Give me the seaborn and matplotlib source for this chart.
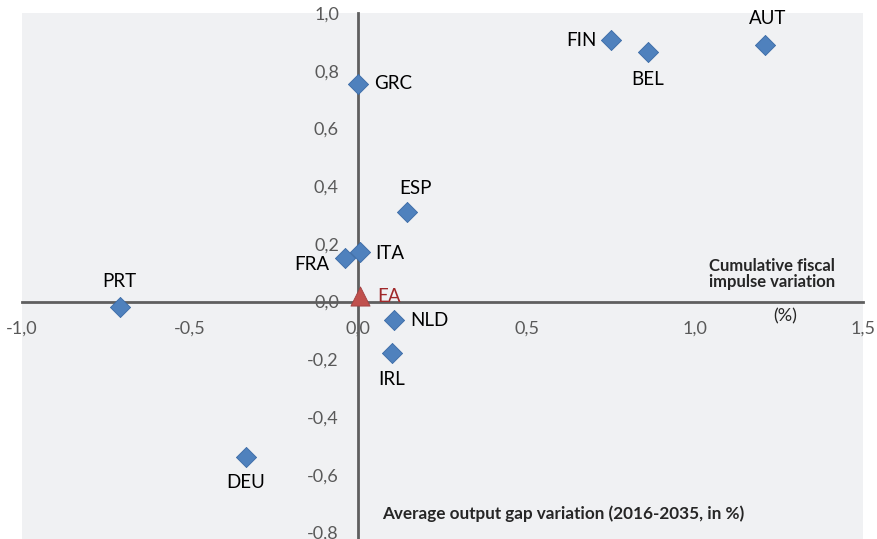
import matplotlib
matplotlib.use("Agg")
import matplotlib.pyplot as plt
import matplotlib.ticker as mticker
import pandas as pd
import seaborn as sns

# Values
countries = ["AUT", "FIN", "BEL", "GRC", "ESP", "ITA", "FRA", "NLD", "IRL", "PRT", "DEU"]
output_gap = [1.21, 0.75, 0.86, 0.0, 0.145, 0.005, -0.04, 0.105, 0.10, -0.71, -0.335]
fiscal_impulse = [0.89, 0.905, 0.865, 0.755, 0.31, 0.17, 0.15, -0.065, -0.18, -0.02, -0.54]
ea_label = "EA"
ea_x = [0.005]
ea_y = [0.02]

x_ticks = [-1.0, -0.5, 0.0, 0.5, 1.0, 1.5]
y_ticks = [-0.8, -0.6, -0.4, -0.2, 0.0, 0.2, 0.4, 0.6, 0.8, 1.0]

# label placement (pixel offsets, alignment)
label_pos = {
    "AUT": (2, 26, "center", "center"),
    "FIN": (-14, 0, "right", "center"),
    "BEL": (0, -28, "center", "center"),
    "GRC": (16, 0, "left", "center"),
    "ESP": (8, 24, "center", "center"),
    "ITA": (15, -1, "left", "center"),
    "FRA": (-16, -6, "right", "center"),
    "NLD": (17, 0, "left", "center"),
    "IRL": (0, -26, "center", "center"),
    "PRT": (0, 26, "center", "center"),
    "DEU": (0, -25, "center", "center"),
}

df = pd.DataFrame({"country": countries, "x": output_gap, "y": fiscal_impulse})
ea = pd.DataFrame({"country": [ea_label], "x": ea_x, "y": ea_y})

sns.set_style("white")
plt.rcParams["font.family"] = ["Lato", "DejaVu Sans"]

fig = plt.figure(figsize=(8.77, 5.39), dpi=100)
ax = fig.add_axes([22 / 877, 0, (863 - 22) / 877, (539 - 13) / 539])
ax.set_facecolor("#f0f1f3")

sns.scatterplot(data=df, x="x", y="y", marker="D", s=105, color="#4f81bd",
                edgecolor="#3a6aa5", linewidth=0.6, ax=ax, zorder=4, clip_on=False)
sns.scatterplot(data=ea, x="x", y="y", marker="^", s=190, color="#c0504d",
                edgecolor="#a04040", linewidth=0.6, ax=ax, zorder=5, clip_on=False)

for _, r in df.iterrows():
    dx, dy, ha, va = label_pos[r["country"]]
    ax.annotate(r["country"], (r["x"], r["y"]), xytext=(dx, dy), textcoords="offset pixels",
                ha=ha, va=va, fontsize=13.5, color="black", zorder=6)
ax.annotate(ea_label, (ea_x[0], ea_y[0]), xytext=(17, -1), textcoords="offset pixels",
            ha="left", va="center", fontsize=13.5, color="#a0282a", zorder=6)

ax.set_xlim(-1.0, 1.5)
ax.set_ylim(-0.823, 1.0)
ax.set_xticks(x_ticks)
ax.set_yticks(y_ticks)
fmt = mticker.FuncFormatter(lambda v, p: f"{v:.1f}".replace(".", ","))
ax.xaxis.set_major_formatter(fmt)
ax.yaxis.set_major_formatter(fmt)

for side in ["top", "right"]:
    ax.spines[side].set_visible(False)
for side in ["left", "bottom"]:
    ax.spines[side].set_position(("data", 0))
    ax.spines[side].set_color("#5f5f5f")
    ax.spines[side].set_linewidth(2)
    ax.spines[side].set_zorder(3)

ax.tick_params(axis="both", direction="out", length=4, width=1, color="#9a9a9a",
               labelsize=13, labelcolor="#595959")
ax.tick_params(axis="x", pad=10)
ax.tick_params(axis="y", pad=10)
for lab in ax.get_xticklabels() + ax.get_yticklabels():
    lab.set_clip_on(False)
ax.set_xlabel("")
ax.set_ylabel("")

ax.text(1.23, 0.095, "Cumulative fiscal\nimpulse variation", ha="center", va="center",
        fontsize=12, fontweight="bold", linespacing=1.05)
ax.text(1.27, -0.05, "(%)", ha="center", va="center", fontsize=13)
ax.text(0.61, -0.735, "Average output gap variation (2016-2035, in %)", ha="center",
        va="center", fontsize=12.3, fontweight="bold")

fig.savefig("out.png", dpi=100)
